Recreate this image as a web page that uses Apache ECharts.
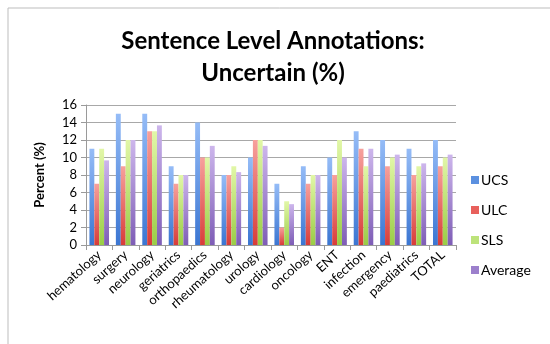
<!DOCTYPE html>
<html>
<head>
<meta charset="utf-8">
<script src="https://cdn.jsdelivr.net/npm/echarts@6/dist/echarts.min.js"></script>
<style>
  html, body { margin: 0; padding: 0; background: #fff; }
  #chart { width: 550px; height: 344px; }
</style>
</head>
<body>
<div id="chart"></div>
<script>
// Uncertain sentence-level annotations per specialty
const categories = ['hematology', 'surgery', 'neurology', 'geriatrics', 'orthopaedics', 'rheumatology',
  'urology', 'cardiology', 'oncology', 'ENT', 'infection', 'emergency', 'paediatrics', 'TOTAL'];
const ucs     = [11, 15, 15, 9, 14, 8, 10, 7, 9, 10, 13, 12, 11, 12];
const ulc     = [7, 9, 13, 7, 10, 8, 12, 2, 7, 8, 11, 9, 8, 9];
const sls     = [11, 12, 13, 8, 10, 9, 12, 5, 8, 12, 9, 10, 9, 10];
const average = [9.67, 12, 13.67, 8, 11.33, 8.33, 11.33, 4.67, 8, 10, 11, 10.33, 9.33, 10.33];
const yTicks  = { min: 0, max: 16, interval: 2 };

const FONT = 'Lato, "Open Sans", sans-serif';

function grad(top, bottom) {
  return new echarts.graphic.LinearGradient(0, 0, 0.35, 1, [
    { offset: 0, color: top },
    { offset: 1, color: bottom }
  ]);
}

const palette = [
  { name: 'UCS', data: ucs, top: '#95BCF7', bottom: '#3B76D2', swatch: '#5B90E0' },
  { name: 'ULC', data: ulc, top: '#F7A19D', bottom: '#D83C39', swatch: '#E8605C' },
  { name: 'SLS', data: sls, top: '#E2F7A8', bottom: '#9ACD45', swatch: '#BDE37A' },
  { name: 'Average', data: average, top: '#CDB6EC', bottom: '#7E5DB6', swatch: '#9C7FCC' }
];

const chart = echarts.init(document.getElementById('chart'), null, { renderer: 'canvas' });

chart.setOption({
  animation: false,
  backgroundColor: '#fff',
  graphic: [{
    type: 'rect',
    shape: { x: 8, y: 8, width: 560, height: 360 },
    style: { fill: 'none', stroke: '#BDBDBD', lineWidth: 1 },
    z: -1
  }],
  title: {
    text: 'Sentence Level Annotations:\nUncertain (%)',
    left: 268,
    top: 20,
    textAlign: 'center',
    textStyle: { fontFamily: FONT, fontWeight: 'bold', fontSize: 24, lineHeight: 32, color: '#000' }
  },
  legend: {
    orient: 'vertical',
    left: 466,
    top: 168,
    itemWidth: 8,
    itemHeight: 8,
    itemGap: 16,
    icon: 'rect',
    textStyle: { fontFamily: FONT, fontSize: 14, color: '#000', padding: [0, 0, 0, -3] },
    data: palette.map(p => ({ name: p.name, itemStyle: { color: p.swatch } }))
  },
  grid: { left: 86, top: 105, width: 370, height: 140, containLabel: false },
  xAxis: {
    type: 'category',
    data: categories,
    axisLine: { lineStyle: { color: '#9A9A9A' } },
    axisTick: { show: true, length: 5, alignWithLabel: false, lineStyle: { color: '#9A9A9A' } },
    axisLabel: { interval: 0, rotate: 42, margin: 8, fontFamily: FONT, fontSize: 13, color: '#000' }
  },
  yAxis: {
    type: 'value',
    min: yTicks.min,
    max: yTicks.max,
    interval: yTicks.interval,
    name: 'Percent (%)',
    nameLocation: 'middle',
    nameGap: 40,
    nameRotate: 90,
    nameTextStyle: { fontFamily: FONT, fontWeight: 'bold', fontSize: 13, color: '#000' },
    axisLine: { show: true, lineStyle: { color: '#9A9A9A' } },
    axisTick: { show: true, length: 5, lineStyle: { color: '#9A9A9A' } },
    splitLine: { lineStyle: { color: '#A8A8A8', width: 1 } },
    axisLabel: { margin: 9, fontFamily: FONT, fontSize: 13, color: '#000' }
  },
  series: palette.map(p => ({
    name: p.name,
    type: 'bar',
    data: p.data,
    barGap: '0%',
    barCategoryGap: '26%',
    itemStyle: { color: grad(p.top, p.bottom) }
  }))
});
</script>
</body>
</html>
